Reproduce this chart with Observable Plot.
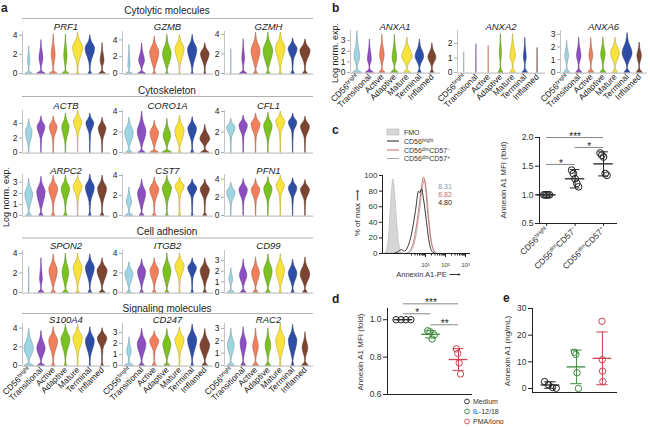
<!DOCTYPE html>
<html><head><meta charset="utf-8">
<script src="https://cdn.jsdelivr.net/npm/d3@7"></script>
<script src="https://cdn.jsdelivr.net/npm/@observablehq/plot@0.6"></script>
<style>
html,body{margin:0;padding:0;background:#fff;}
#root{position:relative;width:650px;height:428px;overflow:hidden;background:#fff;}
</style></head><body><div id="root"></div>
<script>
// ---------------- DATA ----------------
const types = ["CD56^{bright}", "Transitional", "Active", "Adaptive", "Mature", "Terminal", "Inflamed"];
const typeColors = ["#9dd5e2", "#8c4ec0", "#f07f5b", "#7bc11f", "#f7e33b", "#2e4da6", "#7c4531"];

// violin summaries per cell type: [top, y of widest point, relative width, width at zero]
const PRF1   = [[2.8,1.2,0.22,0.6],[3.5,1.6,0.35,0.7],[4.1,2.0,0.35,0.65],[4.1,1.8,0.3,0.6],[4.3,2.7,0.9,0.2],[4.0,2.6,0.85,0.3],[3.2,1.3,0.35,0.55]];
const GZMB   = [[3.4,0.8,0.2,0.5],[3.6,1.5,0.5,0.6],[4.4,2.5,0.8,0.25],[4.6,2.3,0.75,0.2],[4.6,2.9,0.8,0.1],[4.6,2.8,0.8,0.15],[3.6,2.3,0.75,0.15]];
const GZMH   = [[2.5,0,0,0.04],[3.5,1.5,0.25,0.6],[4.2,2.3,0.8,0.35],[4.2,2.3,0.85,0.3],[4.2,2.6,0.85,0.2],[3.6,2.5,0.8,0.3],[3.5,2.3,0.9,0.4]];
const ACTB   = [[4.6,2.8,0.6,0.05],[5.0,3.5,0.7,0.05],[5.0,3.5,0.7,0.05],[5.4,3.5,0.65,0.05],[5.8,4.2,0.75,0.03],[5.4,4.0,0.7,0.04],[4.8,3.3,0.7,0.05]];
const CORO1A = [[3.4,1.9,0.75,0.55],[4.0,2.0,0.75,0.55],[3.1,1.9,0.75,0.7],[3.3,1.6,0.65,0.8],[3.6,2.1,0.8,0.15],[3.45,2.3,0.75,0.25],[2.7,1.3,0.85,0.65]];
const CFL1   = [[3.3,2.4,0.75,0.05],[3.6,2.6,0.75,0.05],[3.8,2.7,0.8,0.05],[3.9,2.6,0.75,0.05],[4.0,3.0,0.8,0.03],[3.8,2.9,0.75,0.04],[3.5,2.5,0.8,0.05]];
const ARPC2  = [[3.3,1.9,0.7,0.45],[3.5,2.1,0.75,0.35],[3.6,2.4,0.8,0.3],[3.6,2.4,0.75,0.3],[3.6,2.6,0.8,0.1],[3.7,2.5,0.8,0.2],[3.6,2.4,0.8,0.3]];
const CST7   = [[2.8,1.3,0.45,0.6],[3.6,2.2,0.7,0.4],[3.8,2.6,0.8,0.3],[4.0,2.7,0.8,0.2],[3.8,2.9,0.8,0.15],[3.6,2.7,0.8,0.15],[3.6,2.6,0.8,0.3]];
const PFN1   = [[3.6,2.5,0.75,0.05],[4.0,2.8,0.75,0.05],[4.0,2.8,0.75,0.05],[4.2,2.9,0.75,0.05],[4.4,3.3,0.75,0.03],[4.1,3.0,0.75,0.04],[3.9,2.8,0.8,0.05]];
const SPON2  = [[2.6,0,0,0.04],[3.5,1.3,0.25,0.5],[3.9,2.2,0.75,0.4],[4.0,2.0,0.6,0.5],[4.0,2.5,0.8,0.3],[3.9,2.5,0.8,0.3],[3.5,2.2,0.9,0.5]];
const ITGB2  = [[3.1,1.9,0.7,0.35],[3.4,2.1,0.7,0.3],[3.5,2.2,0.75,0.3],[4.0,2.2,0.7,0.3],[4.0,2.7,0.8,0.1],[3.5,2.5,0.75,0.2],[3.5,2.2,0.8,0.3]];
const CD99   = [[2.3,1.2,0.35,0.55],[3.1,1.6,0.65,0.5],[3.3,1.8,0.7,0.45],[3.6,2.0,0.75,0.4],[3.6,2.1,0.75,0.2],[3.1,1.8,0.75,0.25],[3.3,1.7,0.85,0.4]];
const S100A4 = [[3.95,1.8,0.85,0.75],[3.7,1.8,0.75,0.6],[4.1,2.6,0.8,0.3],[4.4,2.8,0.8,0.2],[4.4,2.9,0.85,0.1],[4.1,2.6,0.8,0.1],[4.0,2.9,0.85,0.2]];
const CD247  = [[2.55,1.2,0.4,0.7],[3.35,1.9,0.75,0.45],[3.1,2.2,0.8,0.35],[3.3,1.9,0.7,0.5],[3.45,2.3,0.8,0.1],[3.7,2.3,0.8,0.2],[3.3,1.8,0.85,0.45]];
const RAC2   = [[3.0,1.6,0.6,0.6],[3.1,1.8,0.55,0.4],[3.0,1.5,0.5,0.5],[3.0,1.6,0.5,0.45],[3.4,2.0,0.8,0.15],[3.3,2.0,0.75,0.2],[2.7,1.4,0.5,0.55]];
const ANXA1  = [[3.9,1.4,0.5,0.7],[3.1,1.2,0.35,0.65],[3.55,1.6,0.4,0.5],[3.55,1.3,0.4,0.6],[3.3,1.5,0.9,0.55],[3.1,1.5,0.75,0.3],[2.75,1.4,0.7,0.3]];
const ANXA2  = [[1.4,0,0,0.03],[1.95,0,0,0.03],[1.85,0,0,0.03],[2.65,1.3,0.2,0.4],[2.65,1.1,0.5,0.5],[2.4,1.0,0.25,0.45],[1.7,0,0,0.03]];
const ANXA6  = [[2.5,1.3,0.35,0.5],[2.75,1.3,0.4,0.5],[2.7,1.3,0.35,0.5],[2.75,1.4,0.4,0.5],[2.75,1.5,0.8,0.45],[3.1,1.5,0.9,0.5],[2.35,1.3,0.4,0.5]];

const sectionsA = ["Cytolytic molecules", "Cytoskeleton", "Cell adhesion", "Signaling molecules"];
const genesA = ["PRF1","GZMB","GZMH","ACTB","CORO1A","CFL1","ARPC2","CST7","PFN1","SPON2","ITGB2","CD99","S100A4","CD247","RAC2"];
const yMaxA = [4.4,5.0,4.3,5.8,4.1,4.1,3.7,4.1,4.5,4.3,4.3,3.95,4.5,3.8,3.4];
const tickStepA = [2,2,2,2,2,2,1,2,2,2,2,1,2,1,1];
const genesB = ["ANXA1","ANXA2","ANXA6"];
const yMaxB = [3.95,2.9,3.3];
const tickStepB = [1,1,1];
const violinTable = {PRF1,GZMB,GZMH,ACTB,CORO1A,CFL1,ARPC2,CST7,PFN1,SPON2,ITGB2,CD99,S100A4,CD247,RAC2,ANXA1,ANXA2,ANXA6};

// panel c histogram: [log10 fluorescence, % of max]
const fmoHist    = [[-1.0,0],[-0.9,6],[-0.8,30],[-0.7,72],[-0.6,95],[-0.5,70],[-0.4,35],[-0.3,10],[-0.2,2],[-0.1,0]];
const brightHist = [[-0.6,0],[-0.4,2],[-0.2,5],[-0.05,3],[0.1,8],[0.3,25],[0.5,55],[0.65,80],[0.72,78],[0.8,83],[0.9,70],[1.05,40],[1.2,12],[1.35,2],[1.5,0]];
const dimNegHist = [[0,0],[0.2,3],[0.4,15],[0.6,45],[0.75,75],[0.9,98],[1.0,85],[1.1,55],[1.25,20],[1.4,4],[1.55,0]];
const dimPosHist = [[0.1,0],[0.3,4],[0.5,20],[0.7,55],[0.85,85],[0.95,95],[1.05,80],[1.15,50],[1.3,15],[1.45,3],[1.6,0]];
const histLabels = ["FMO", "CD56^{bright}", "CD56^{dim}CD57^{−}", "CD56^{dim}CD57^{+}"];
const histMFI = ["8.31", "6.82", "4.80"];

// panel c right: Annexin A1 MFI (fold)
const catsC = ["CD56^{bright}", "CD56^{dim}CD57^{−}", "CD56^{dim}CD57^{+}"];
const mfiBright = [1,1,1,1,1];
const mfiDimNeg = [1.43,1.37,1.28,1.20,1.14];
const mfiDimPos = [1.73,1.69,1.66,1.37,1.34];
const meanC = [1.0,1.28,1.54];
const sdC = [0,0.16,0.21];
const sigC = [[0,1,1.53,"*"],[0,2,2.0,"***"],[1,2,1.825,"*"]];

// panel d
const catsD = ["Medium", "IL-12/18", "PMA/Iono"];
const mfiMedium = [1,1,1,1];
const mfiIL = [0.941,0.936,0.897,0.918];
const mfiPMA = [0.844,0.82,0.769,0.71];
const meanD = [1.0,0.922,0.787];
const sdD = [0,0.019,0.058];
const sigD = [[0,1,1.032,"*"],[0,2,1.085,"***"],[1,2,0.973,"**"]];

// panel e: Annexin A1 (ng/mL)
const ngMedium = [2.6,1.4,0.4,0.1];
const ngIL = [13.6,12.8,5.9,0];
const ngPMA = [25.2,10.8,6.5,2.6];
const meanE = [1.3,8.1,11.3];
const sdE = [1.2,6.3,9.9];
const groupColors = ["#222222", "#3d8b3d", "#cc4450"];

// ---------------- HELPERS ----------------
const FONT = '"Liberation Sans", Arial, Helvetica, sans-serif';
const NS = "http://www.w3.org/2000/svg";
const root = document.getElementById("root");
const baseStyle = {background: "none", overflow: "visible", fontFamily: FONT, fontSize: "8.5px", color: "#222", maxWidth: "none", position: "absolute"};
const outline = typeColors.map(c => d3.color(c).darker(1).formatHex());

function setRich(el, str) {
  el.textContent = "";
  str.split(/(\^\{[^}]*\})/).forEach(p => {
    if (!p) return;
    const t = document.createElementNS(NS, "tspan");
    if (p.startsWith("^{")) {
      t.textContent = p.slice(2, -1);
      t.setAttribute("baseline-shift", "super");
      t.setAttribute("font-size", "65%");
    } else t.textContent = p;
    el.appendChild(t);
  });
}
function richify(node) {
  node.querySelectorAll("text").forEach(t => { if (t.textContent.includes("^{")) setRich(t, t.textContent); });
}
function place(svg, left, top) {
  svg.style.left = left + "px";
  svg.style.top = top + "px";
  root.appendChild(svg);
  richify(svg);
}
function profile(v) {
  const [top, mid, w, base] = v;
  if (w === 0) return [[0, base], [top * 0.5, 0.012], [top, 0.004]];
  const neck = Math.min(0.35, mid * 0.3);
  const lo = Math.max(neck + 0.25, mid - (top - mid) * 1.1);
  const hi = mid + (top - mid) * 0.6;
  return [[0, base], [neck, Math.min(base, 0.06)], [lo, w * 0.15 + 0.02], [mid, w], [hi, w * 0.2 + 0.02], [top, 0.01]];
}
const HALF = 0.46;

function violinPlot(arr, ymax, step, x0, x1, topY, zeroY, withLabels) {
  const rows = [];
  arr.forEach((v, i) => profile(v).forEach(([y, hw]) => rows.push({i, y, x1: i - hw * HALF, x2: i + hw * HALF})));
  const ml = 16, mr = 2, mt = 4, mb = withLabels ? 52 : 3;
  const xd = [-0.55, 6.65];
  const marks = [
    Plot.ruleY([0], {x1: xd[0], x2: xd[1], stroke: "#c4c4c4", strokeWidth: 1.3, dy: 0.6}),
    Plot.ruleX([xd[0]], {y1: 0, y2: ymax, stroke: "#c4c4c4", strokeWidth: 1}),
    Plot.areaX(rows, {y: "y", x1: "x1", x2: "x2", z: "i", fill: d => typeColors[d.i], stroke: d => outline[d.i], strokeWidth: 0.5, curve: "monotone-y"}),
    Plot.axisY(d3.range(0, ymax + 1e-9, step), {tickSize: 3, tickPadding: 2, fontSize: 8.5, stroke: "#aaa", fill: "#222"})
  ];
  if (withLabels) marks.push(Plot.axisX(d3.range(7), {tickFormat: i => types[i], tickRotate: -45, tickSize: 0, tickPadding: 3, fontSize: 8.5, fill: "#222"}));
  const svg = Plot.plot({
    width: ml + (x1 - x0) + mr, height: mt + (zeroY - topY) + mb,
    marginLeft: ml, marginRight: mr, marginTop: mt, marginBottom: mb,
    style: baseStyle,
    x: withLabels ? {domain: xd, label: null} : {domain: xd, axis: null, label: null},
    y: {domain: [0, ymax], label: null},
    color: {type: "identity"},
    marks
  });
  place(svg, x0 - ml, topY - mt);
}

// ---------------- PANEL a ----------------
const rowTopA = [31, 110, 174, 250, 323];
const rowZeroA = [73, 152, 215, 292, 365];
const colA = [[22, 110], [122, 213], [224, 313]];
genesA.forEach((g, k) => {
  const r = Math.floor(k / 3), c = k % 3;
  violinPlot(violinTable[g], yMaxA[k], tickStepA[k], colA[c][0], colA[c][1], rowTopA[r], rowZeroA[r], r === 4);
});
// ---------------- PANEL b ----------------
const colB = [[350, 440], [457, 545], [560, 647]];
genesB.forEach((g, k) => violinPlot(violinTable[g], yMaxB[k], tickStepB[k], colB[k][0], colB[k][1], 30, 72, true));

// ---------------- PANEL c histogram ----------------
{
  const ml = 28, mr = 4, mt = 4, mb = 20, x0 = 382, x1 = 470, yTop = 175, yZero = 253;
  const xd = [-1.15, 3.25];
  const minor = [];
  for (let d = 0; d < 3; d++) for (let k = 2; k < 10; k++) minor.push(d + Math.log10(k));
  const X = d => d[0], Y = d => d[1];
  const svg = Plot.plot({
    width: ml + (x1 - x0) + mr, height: mt + (yZero - yTop) + mb,
    marginLeft: ml, marginRight: mr, marginTop: mt, marginBottom: mb,
    style: baseStyle,
    x: {domain: xd, label: null}, y: {domain: [0, 100], label: null},
    marks: [
      Plot.areaY(fmoHist, {x: X, y: Y, fill: "#d6d6d6", stroke: "#b5b5b5", strokeWidth: 0.6, curve: "monotone-x"}),
      Plot.lineY(dimPosHist, {x: X, y: Y, stroke: "#a9a9a9", strokeWidth: 0.9, curve: "monotone-x"}),
      Plot.lineY(dimNegHist, {x: X, y: Y, stroke: "#c9686a", strokeWidth: 0.9, curve: "monotone-x"}),
      Plot.lineY(brightHist, {x: X, y: Y, stroke: "#222", strokeWidth: 0.9, curve: "monotone-x"}),
      Plot.ruleX([xd[0]], {y1: 0, y2: 100, stroke: "#222"}),
      Plot.ruleY([0], {x1: xd[0], x2: xd[1], stroke: "#222"}),
      Plot.axisY([0, 20, 40, 60, 80, 100], {tickSize: 3, tickPadding: 2, fontSize: 8, fill: "#333"}),
      Plot.axisX(minor, {tickSize: 2.5, tickFormat: () => ""}),
      Plot.axisX([1, 2, 3], {tickSize: 4, tickPadding: 5, fontSize: 6, fill: "#444", tickFormat: d => "10" + "⁰¹²³"[d]})
    ]
  });
  place(svg, x0 - ml, yTop - mt);
}

// generic dot/mean/sd plot
function dotPlot({groups, means, sds, sig, colors, xd, yd, ticks, fmt, x0, x1, yTop, yBot, ml, mt, mb, spreads, r, labels, meanHalf, capHalf}) {
  const mr = 4;
  const pts = groups.flatMap((vals, c) => vals.map((v, j) => ({c, v, x: c + (j - (vals.length - 1) / 2) * spreads[c]})));
  const summ = means.map((m, c) => ({c, m, s: sds[c]}));
  const caps = summ.filter(d => d.s > 0).flatMap(d => [{c: d.c, y: d.m - d.s}, {c: d.c, y: d.m + d.s}]);
  const marks = [
    Plot.ruleX([xd[0]], {y1: yd[0], y2: yd[1], stroke: "#222", strokeWidth: 1}),
    Plot.ruleY([yd[0]], {x1: xd[0], x2: xd[1], stroke: "#222", strokeWidth: 1}),
    Plot.axisY(ticks, {tickSize: 4, tickPadding: 2, fontSize: 8.5, fill: "#333", tickFormat: fmt}),
    Plot.ruleX(summ.filter(d => d.s > 0), {x: "c", y1: d => d.m - d.s, y2: d => d.m + d.s, stroke: d => colors[d.c], strokeWidth: 1}),
    Plot.ruleY(caps, {y: "y", x1: d => d.c - capHalf, x2: d => d.c + capHalf, stroke: d => colors[d.c], strokeWidth: 1}),
    Plot.dot(pts, {x: "x", y: "v", r, stroke: d => colors[d.c], fill: "white", fillOpacity: 0, strokeWidth: 1}),
    Plot.ruleY(summ, {y: "m", x1: d => d.c - meanHalf, x2: d => d.c + meanHalf, stroke: d => colors[d.c], strokeWidth: 1.3})
  ];
  if (sig) {
    marks.push(Plot.ruleY(sig, {y: d => d[2], x1: d => d[0], x2: d => d[1], stroke: "#888", strokeWidth: 1}));
    marks.push(Plot.text(sig, {x: d => (d[0] + d[1]) / 2, y: d => d[2], text: d => d[3], fontSize: 10, dy: -1, fill: "#222"}));
  }
  if (labels) marks.push(Plot.axisX([0, 1, 2], {tickFormat: i => labels[i], tickRotate: -45, tickSize: 3, tickPadding: 2, fontSize: 8.5, fill: "#333"}));
  const svg = Plot.plot({
    width: ml + (x1 - x0) + mr, height: mt + (yBot - yTop) + mb,
    marginLeft: ml, marginRight: mr, marginTop: mt, marginBottom: mb,
    style: baseStyle,
    x: labels ? {domain: xd, label: null} : {domain: xd, axis: null, label: null},
    y: {domain: yd, label: null},
    color: {type: "identity"},
    marks
  });
  place(svg, x0 - ml, yTop - mt);
}

// panel c right
dotPlot({groups: [mfiBright, mfiDimNeg, mfiDimPos], means: meanC, sds: sdC, sig: sigC, colors: ["#222", "#222", "#222"],
  xd: [-0.25, 2.49], yd: [0.5, 2.0], ticks: [0.5, 1.0, 1.5, 2.0], fmt: d3.format(".1f"),
  x0: 539, x1: 617, yTop: 137, yBot: 223, ml: 28, mt: 16, mb: 58, spreads: [0.05, 0.06, 0.06], r: 3.4,
  labels: catsC, meanHalf: 0.34, capHalf: 0.17});
// panel d
dotPlot({groups: [mfiMedium, mfiIL, mfiPMA], means: meanD, sds: sdD, sig: sigD, colors: groupColors,
  xd: [-0.58, 2.51], yd: [0.6, 1.06], ticks: [0.6, 0.8, 1.0], fmt: d3.format(".1f"),
  x0: 387, x1: 472, yTop: 308, yBot: 394, ml: 26, mt: 16, mb: 4, spreads: [0.18, 0.08, 0.05], r: 3.2,
  labels: null, meanHalf: 0.34, capHalf: 0.2});
// panel e
dotPlot({groups: [ngMedium, ngIL, ngPMA], means: meanE, sds: sdE, sig: null, colors: groupColors,
  xd: [-0.69, 2.58], yd: [-1.5, 30], ticks: [0, 10, 20, 30], fmt: d3.format("d"),
  x0: 532, x1: 617, yTop: 308, yBot: 392, ml: 24, mt: 4, mb: 4, spreads: [0.15, 0.05, 0.01], r: 3.2,
  labels: null, meanHalf: 0.36, capHalf: 0.22});

// ---------------- TEXT OVERLAY ----------------
const ov = d3.create("svg").attr("width", 650).attr("height", 428)
  .style("position", "absolute").style("left", "0px").style("top", "0px").style("overflow", "visible")
  .attr("font-family", FONT);
root.appendChild(ov.node());
function T(x, y, s, o = {}) {
  const t = ov.append("text").attr("x", x).attr("y", y).attr("font-size", o.size || 9)
    .attr("text-anchor", o.anchor || "start").attr("fill", o.fill || "#222");
  if (o.weight) t.attr("font-weight", o.weight);
  if (o.italic) t.attr("font-style", "italic");
  if (o.rotate) t.attr("transform", `rotate(${o.rotate},${x},${y})`);
  setRich(t.node(), s);
  return t;
}
// panel letters
T(1, 12, "a", {size: 12, weight: "bold"});
T(332, 12, "b", {size: 12, weight: "bold"});
T(332, 134, "c", {size: 12, weight: "bold"});
T(332, 303, "d", {size: 12, weight: "bold"});
T(503, 302, "e", {size: 12, weight: "bold"});
// section headers
const secY = [13.5, 93.5, 234.5, 311.5], secLineY = [18.5, 96.5, 238, 313.5];
sectionsA.forEach((s, i) => {
  T(167, secY[i], s, {size: 10, anchor: "middle"});
  ov.append("line").attr("x1", 22).attr("x2", 313).attr("y1", secLineY[i]).attr("y2", secLineY[i]).attr("stroke", "#a8a8a8").attr("stroke-width", 0.9);
});
// gene titles
const titleY = [29.5, 108.5, 173.5, 248.5, 322.5];
genesA.forEach((g, k) => {
  const r = Math.floor(k / 3), c = k % 3;
  T((colA[c][0] + colA[c][1]) / 2, titleY[r], g, {size: 9.5, anchor: "middle", italic: true});
});
genesB.forEach((g, k) => T((colB[k][0] + colB[k][1]) / 2, 29.5, g, {size: 9.5, anchor: "middle", italic: true}));
T(9, 197, "Log norm. exp.", {size: 9, anchor: "middle", rotate: -90});
T(338, 53, "Log norm. exp.", {size: 9, anchor: "middle", rotate: -90});
// panel c legend
const legY = [132, 141, 150, 158.5];
ov.append("rect").attr("x", 387).attr("y", 129).attr("width", 12).attr("height", 6).attr("fill", "#d6d6d6").attr("stroke", "#b5b5b5").attr("stroke-width", 0.6);
const legCol = ["#222", "#c9686a", "#a9a9a9"];
[1, 2, 3].forEach(i => ov.append("line").attr("x1", 387).attr("x2", 399).attr("y1", legY[i]).attr("y2", legY[i]).attr("stroke", legCol[i - 1]).attr("stroke-width", 1));
histLabels.forEach((s, i) => T(404, legY[i] + 2.5, s, {size: 7, fill: "#333"}));
const mfiCol = ["#8a9ab0", "#c9686a", "#222"];
histMFI.forEach((s, i) => T(445, 188.5 + i * 8, s, {size: 7, anchor: "middle", fill: mfiCol[i]}));
T(360, 213, "% of max ⟶", {size: 8, anchor: "middle", rotate: -90, fill: "#333"});
T(428, 277, "Annexin A1-PE ⟶", {size: 7.5, anchor: "middle", fill: "#333"});
T(506, 180, "Annexin A1 MFI (fold)", {size: 8, anchor: "middle", rotate: -90, fill: "#333"});
T(363, 352, "Annexin A1 MFI (fold)", {size: 8, anchor: "middle", rotate: -90, fill: "#333"});
T(510, 351, "Annexin A1 (ng/mL)", {size: 8, anchor: "middle", rotate: -90, fill: "#333"});
// panel d legend
catsD.forEach((s, i) => {
  ov.append("circle").attr("cx", 467).attr("cy", 401.5 + i * 10).attr("r", 2.4).attr("fill", "none").attr("stroke", groupColors[i]).attr("stroke-width", 0.9);
  T(473, 404 + i * 10, s, {size: 7, fill: "#333"});
});
</script></body></html>
